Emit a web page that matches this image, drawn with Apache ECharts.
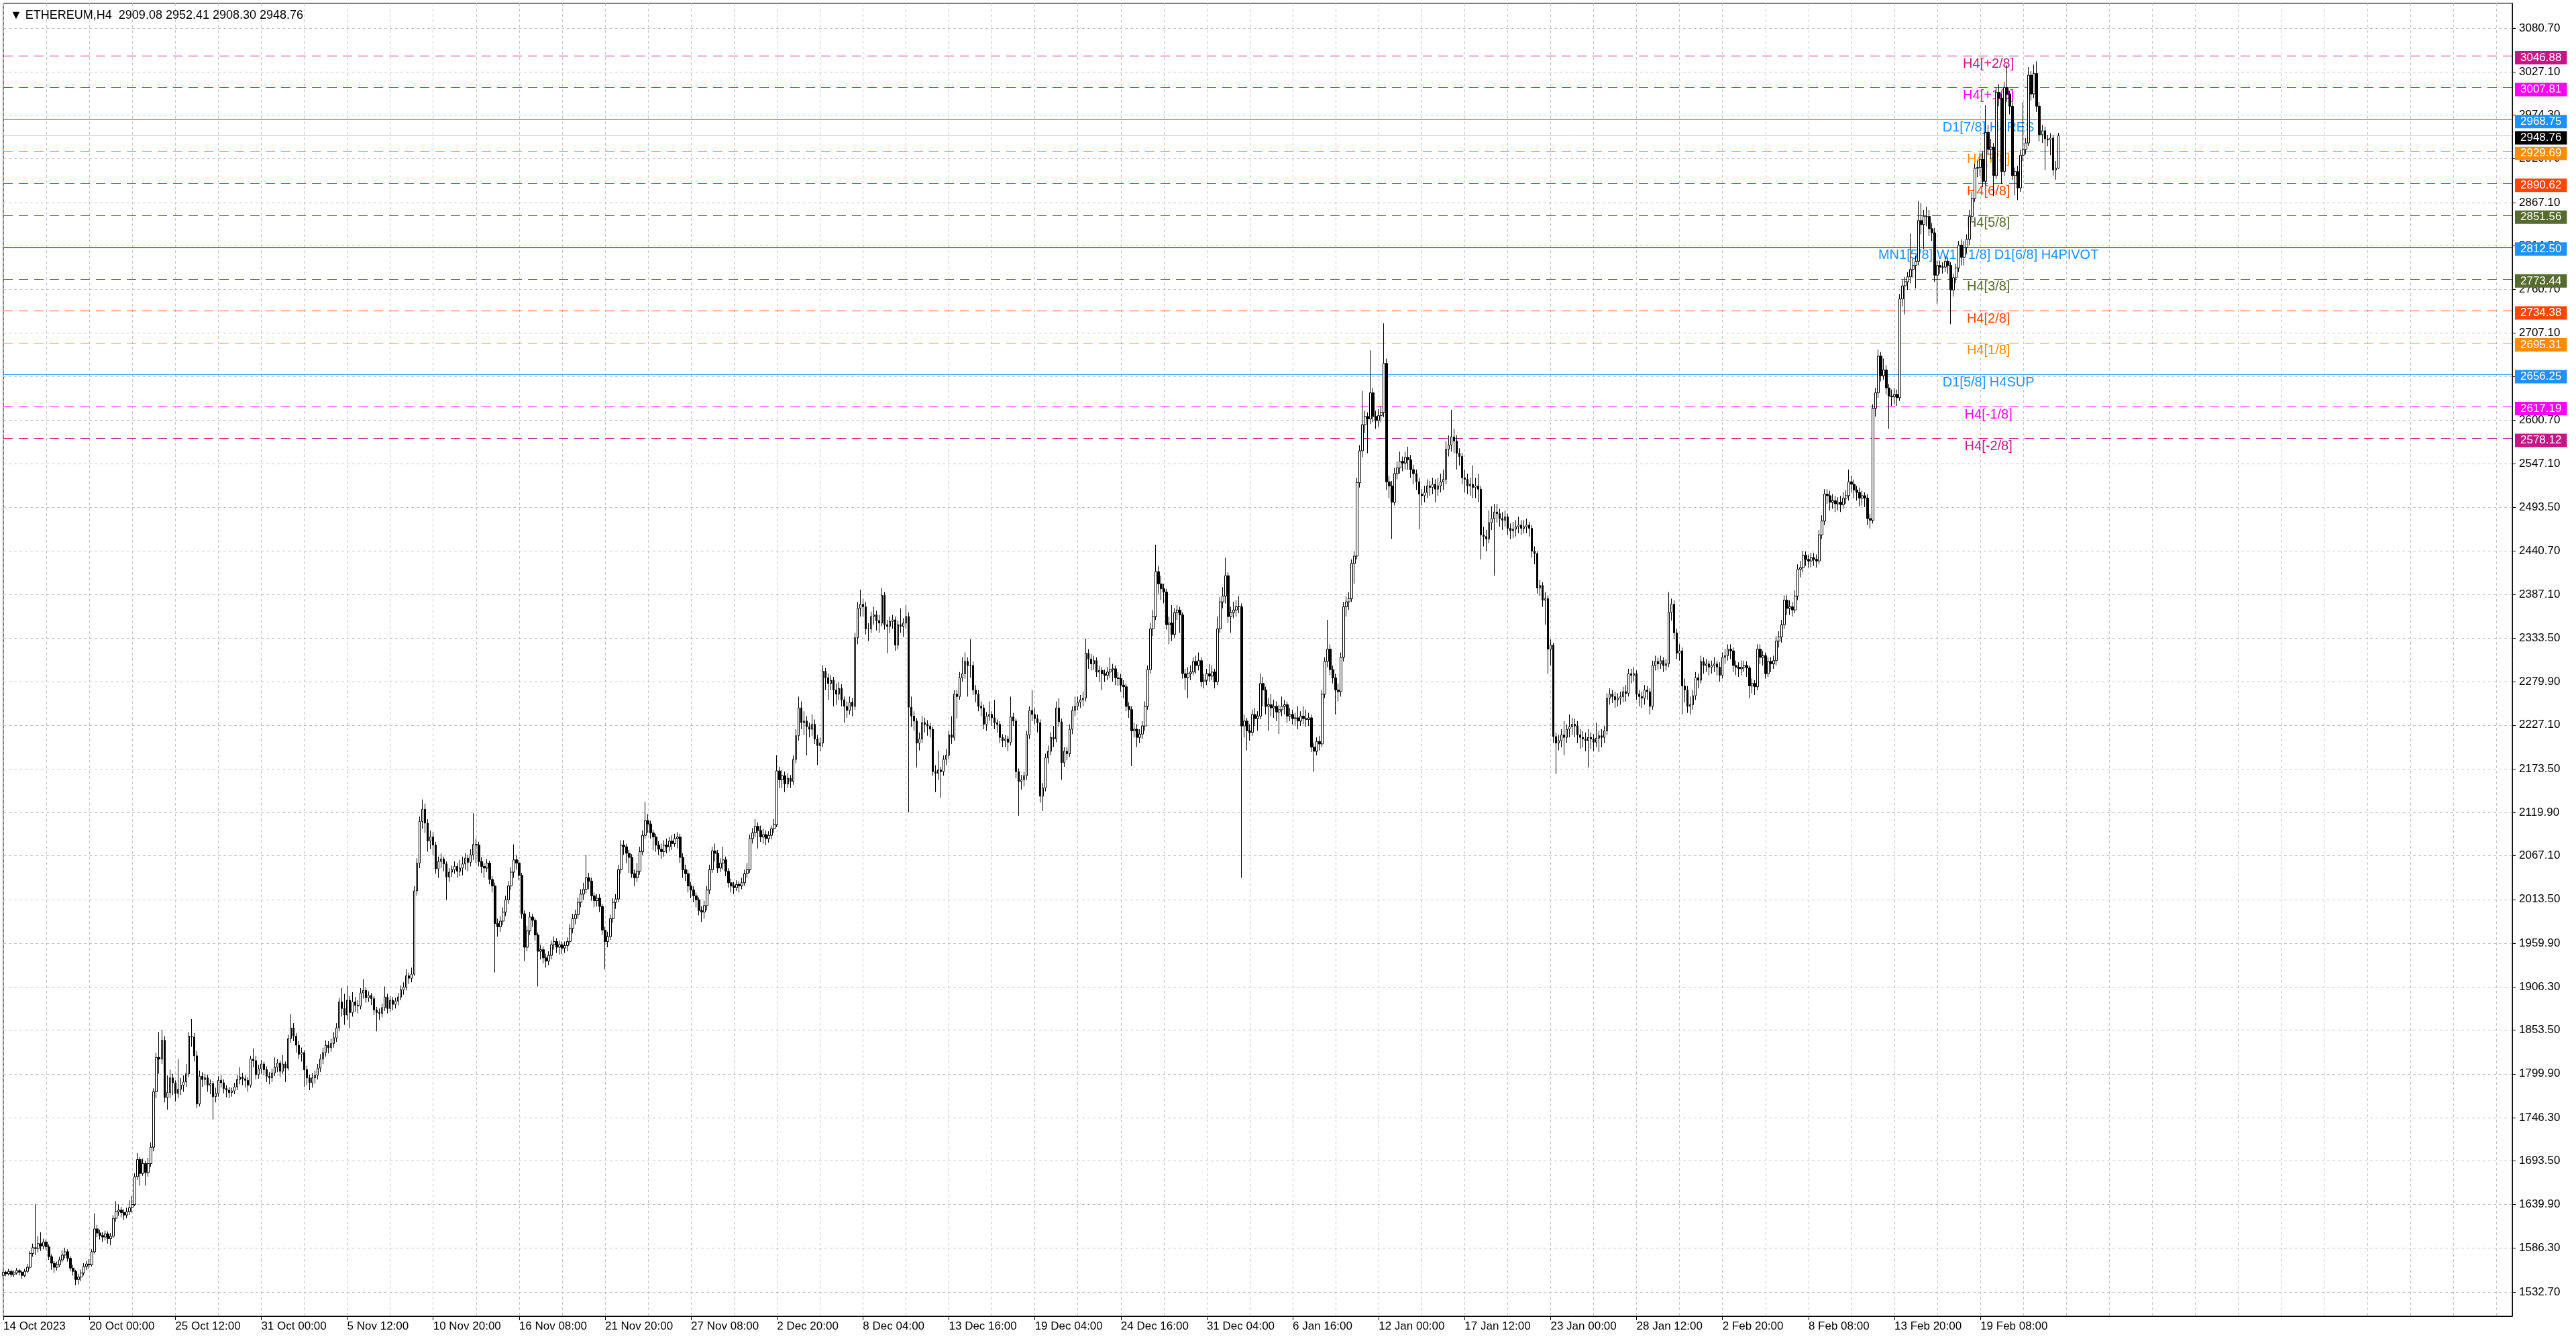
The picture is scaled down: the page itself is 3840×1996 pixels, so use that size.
<!DOCTYPE html>
<html><head><meta charset="utf-8">
<script src="https://cdn.jsdelivr.net/npm/echarts@6/dist/echarts.min.js"></script>
<style>html,body{margin:0;padding:0;background:#fff}#c{width:3840px;height:1996px}</style>
</head><body><div id="c"></div>
<script>
const chartTitle = 'ETHEREUM,H4';
const lastOHLC = ['2909.08', '2952.41', '2908.30', '2948.76'];
const timeLabels = ['14 Oct 2023','20 Oct 00:00','25 Oct 12:00','31 Oct 00:00','5 Nov 12:00','10 Nov 20:00','16 Nov 08:00','21 Nov 20:00','27 Nov 08:00','2 Dec 20:00','8 Dec 04:00','13 Dec 16:00','19 Dec 04:00','24 Dec 16:00','31 Dec 04:00','6 Jan 16:00','12 Jan 00:00','17 Jan 12:00','23 Jan 00:00','28 Jan 12:00','2 Feb 20:00','8 Feb 08:00','13 Feb 20:00','19 Feb 08:00'];
const yTicks = [3080.70,3027.10,2974.30,2920.70,2867.10,2814.30,2760.70,2707.10,2654.30,2600.70,2547.10,2493.50,2440.70,2387.10,2333.50,2279.90,2227.10,2173.50,2119.90,2067.10,2013.50,1959.90,1906.30,1853.50,1799.90,1746.30,1693.50,1639.90,1586.30,1532.70];
const levelValues = [3046.88,3007.81,2968.75,2929.69,2890.62,2851.56,2812.50,2773.44,2734.38,2695.31,2656.25,2617.19,2578.12];
const levelNames = ['H4[+2/8]','H4[+1/8]','D1[7/8] H4RES','H4[7/8]','H4[6/8]','H4[5/8]','MN1[5/8] W1[+1/8] D1[6/8] H4PIVOT','H4[3/8]','H4[2/8]','H4[1/8]','D1[5/8] H4SUP','H4[-1/8]','H4[-2/8]'];
const levelColors = ['#C71585','#FF00FF','#1E90FF','#FF8C00','#FF4500','#556B2F','#1E90FF','#556B2F','#FF4500','#FF8C00','#1E90FF','#FF00FF','#C71585'];
const levelSolid = [false,false,true,false,false,false,true,false,false,false,true,false,false];
const levelWidth = [1,1,1,1,1,1,2,1,1,1,1,1,1];
const bidPrice = 2948.76;

// [open, close, low, high]
const oct14Bars = [
[1553,1557,1550,1560],[1557,1555,1552,1559],[1555,1558,1553,1561],[1558,1554,1551,1560],[1554,1556,1551,1559],[1556,1559,1554,1562],[1559,1557,1553,1561],[1557,1553,1549,1559],
[1553,1558,1551,1561],[1558,1563,1556,1567],[1563,1580,1561,1583],[1580,1587,1576,1592],[1587,1586,1578,1640],[1586,1592,1581,1601],[1592,1589,1583,1606],[1589,1594,1585,1598],
[1594,1588,1584,1597],[1588,1576,1572,1591],[1576,1568,1560,1579],[1568,1563,1556,1571],[1563,1566,1559,1570],[1566,1572,1563,1576],[1572,1578,1569,1584],[1578,1582,1574,1587],
[1582,1574,1570,1585],[1574,1562,1558,1577],[1562,1558,1553,1566],[1558,1548,1541,1560],[1548,1551,1542,1555],[1551,1556,1546,1560],[1556,1564,1553,1568],[1564,1567,1560,1571],
[1567,1566,1561,1573],[1566,1582,1564,1585],[1582,1610,1580,1629],[1610,1605,1600,1615],[1605,1602,1597,1609],[1602,1600,1594,1606],[1600,1604,1596,1608],[1604,1598,1592,1607],
[1598,1601,1590,1605],[1601,1623,1599,1627],[1623,1631,1619,1644],[1631,1633,1626,1640],[1633,1630,1624,1637],[1630,1627,1621,1634],[1627,1631,1623,1636],[1631,1636,1627,1645],
[1636,1640,1630,1650],[1640,1674,1638,1678],[1674,1695,1670,1703],[1695,1678,1663,1698],[1678,1690,1675,1696],[1690,1679,1663,1693],[1679,1690,1674,1697],[1690,1710,1686,1716],
[1710,1778,1705,1782],[1778,1820,1770,1826],[1820,1818,1800,1851],[1818,1841,1812,1854],[1841,1771,1765,1846],[1771,1777,1756,1798],[1777,1795,1770,1805],[1795,1789,1774,1800],
[1789,1776,1766,1792],[1776,1781,1770,1818],[1781,1786,1774,1795],[1786,1790,1778,1798],[1790,1800,1784,1812],[1800,1846,1796,1851],[1846,1845,1833,1867],[1845,1822,1815,1850],
[1822,1763,1758,1828],[1763,1797,1760,1804],[1797,1793,1784,1802],[1793,1795,1786,1800],[1795,1786,1778,1799],[1786,1788,1775,1793],[1788,1772,1744,1791],[1772,1776,1765,1783],
[1776,1792,1772,1797],[1792,1789,1783,1799],[1789,1782,1776,1793],[1782,1780,1771,1786],[1780,1777,1770,1784],[1777,1779,1772,1783],[1779,1784,1775,1789],[1784,1793,1780,1799],
[1793,1796,1787,1808],[1796,1794,1786,1801],[1794,1792,1783,1798],[1792,1786,1778,1796],[1786,1818,1783,1822],[1818,1816,1808,1831],[1816,1799,1793,1822],[1799,1806,1794,1811],
[1806,1812,1800,1817],[1812,1805,1798,1815],[1805,1797,1790,1809],[1797,1795,1787,1802],[1795,1801,1790,1806],[1801,1808,1797,1820],[1808,1813,1802,1818],[1813,1803,1796,1816],
[1803,1812,1800,1823],[1812,1807,1790,1815],[1807,1843,1804,1848],[1843,1856,1838,1873],[1856,1846,1840,1862],[1846,1835,1826,1850],[1835,1824,1818,1840],[1824,1826,1815,1832],
[1826,1805,1784,1829],[1805,1795,1786,1810],[1795,1789,1780,1799],[1789,1795,1783,1801],[1795,1798,1788,1804],[1798,1807,1793,1812],[1807,1818,1802,1824],[1818,1826,1812,1832],
[1826,1835,1821,1841],[1835,1832,1825,1840],[1832,1837,1827,1843],[1837,1844,1832,1851],[1844,1856,1839,1862],[1856,1888,1852,1893],[1888,1880,1870,1905],[1880,1872,1860,1898]
];
const nov05Bars = [
[1872,1890,1866,1908],[1890,1875,1856,1895],[1875,1888,1870,1900],[1888,1884,1876,1894],[1884,1883,1874,1890],[1883,1899,1879,1905],[1899,1902,1892,1916],[1902,1893,1887,1906],
[1893,1896,1888,1901],[1896,1892,1884,1899],[1892,1878,1872,1895],[1878,1875,1852,1882],[1875,1874,1866,1880],[1874,1881,1869,1886],[1881,1894,1877,1907],[1894,1880,1874,1898],
[1880,1890,1876,1895],[1890,1885,1878,1894],[1885,1889,1880,1893],[1889,1894,1884,1899],[1894,1903,1890,1908],[1903,1906,1897,1912],[1906,1920,1902,1928],[1920,1917,1910,1924],
[1917,1922,1912,1930],[1922,2024,1920,2030],[2024,2058,2018,2064],[2058,2109,2052,2115],[2109,2124,2100,2136],[2124,2107,2095,2131],[2107,2085,2072,2112],[2085,2090,2075,2098],
[2090,2080,2068,2096],[2080,2051,2045,2084],[2051,2060,2040,2066],[2060,2063,2052,2070],[2063,2057,2048,2066],[2057,2041,2013,2060],[2041,2047,2035,2052],[2047,2050,2041,2055],
[2050,2054,2045,2060],[2054,2048,2040,2058],[2048,2052,2042,2062],[2052,2057,2043,2066],[2057,2064,2050,2070],[2064,2059,2048,2068],[2059,2068,2054,2075],[2068,2081,2062,2119],
[2081,2080,2058,2088],[2080,2060,2054,2084],[2060,2054,2046,2065],[2054,2052,2040,2058],[2052,2058,2047,2063],[2058,2038,2032,2061],[2038,2030,2022,2042],[2030,1984,1924,2034],
[1984,1980,1968,1990],[1980,1987,1974,1993],[1987,1998,1982,2004],[1998,2013,1993,2018],[2013,2030,2008,2036],[2030,2047,2025,2053],[2047,2062,2040,2081],[2062,2058,2050,2068],
[2058,2043,2037,2062],[2043,1996,1990,2046],[1996,1955,1938,2000],[1955,1975,1950,1981],[1975,1992,1970,1998],[1992,1988,1980,1996],[1988,1970,1963,1991],[1970,1950,1907,1973],
[1950,1952,1940,1958],[1952,1942,1935,1956],[1942,1938,1930,1947],[1938,1945,1933,1950],[1945,1958,1940,1963],[1958,1962,1952,1968],[1962,1955,1948,1966],[1955,1958,1946,1963],
[1958,1954,1947,1962],[1954,1957,1948,1962],[1957,1962,1950,1967],[1962,1978,1958,1983],[1978,1990,1972,1996],[1990,1995,1983,2001],[1995,2010,1990,2016],[2010,2020,2004,2026],
[2020,2026,2013,2034],[2026,2040,2021,2068],[2040,2036,2026,2046],[2036,2018,2012,2040],[2018,2012,2004,2022],[2012,2015,2005,2020],[2015,2005,1998,2020],[2005,1976,1970,2008],
[1976,1962,1928,1980],[1962,1968,1955,1974],[1968,1990,1964,1995],[1990,2010,1985,2015],[2010,2014,2002,2020],[2014,2050,2010,2056],[2050,2080,2045,2086],[2080,2078,2068,2086],
[2078,2070,2058,2082],[2070,2065,2046,2074],[2065,2045,2040,2069],[2045,2040,2030,2050],[2040,2048,2035,2058],[2048,2072,2044,2078],[2072,2092,2068,2098],[2092,2110,2088,2133],
[2110,2106,2095,2118],[2106,2095,2088,2110],[2095,2090,2074,2099],[2090,2080,2072,2094],[2080,2075,2068,2085],[2075,2072,2063,2082],[2072,2080,2066,2086],[2080,2078,2070,2088],
[2078,2085,2072,2090],[2085,2082,2074,2092],[2082,2088,2078,2094],[2088,2090,2076,2096],[2090,2065,2058,2094],[2065,2050,2040,2070],[2050,2045,2036,2056],[2045,2030,2022,2050]
];
const nov27Bars = [
[2030,2025,2015,2035],[2025,2018,2010,2030],[2018,2013,2004,2022],[2013,2000,1994,2016],[2000,1998,1986,2005],[1998,2006,1990,2012],[2006,2025,2000,2030],[2025,2050,2020,2056],
[2050,2073,2046,2078],[2073,2070,2060,2082],[2070,2052,2046,2074],[2052,2058,2047,2064],[2058,2062,2050,2078],[2062,2048,2042,2066],[2048,2034,2028,2052],[2034,2030,2022,2039],
[2030,2028,2020,2035],[2028,2032,2024,2037],[2032,2030,2022,2036],[2030,2034,2026,2040],[2034,2045,2030,2050],[2045,2050,2040,2058],[2050,2088,2046,2093],[2088,2095,2082,2101],
[2095,2103,2090,2112],[2103,2098,2076,2108],[2098,2090,2084,2104],[2090,2093,2082,2100],[2093,2088,2080,2098],[2088,2092,2083,2097],[2092,2100,2087,2104],[2100,2105,2095,2112],
[2105,2171,2102,2190],[2171,2160,2150,2176],[2160,2165,2150,2172],[2165,2155,2145,2170],[2155,2162,2150,2168],[2162,2158,2150,2166],[2158,2185,2154,2190],[2185,2214,2180,2222],
[2214,2248,2208,2262],[2248,2230,2222,2256],[2230,2232,2215,2244],[2232,2225,2190,2238],[2225,2222,2212,2230],[2222,2228,2214,2240],[2228,2210,2204,2234],[2210,2202,2178,2215],
[2202,2205,2195,2212],[2205,2293,2200,2300],[2293,2285,2270,2297],[2285,2278,2258,2290],[2278,2282,2270,2288],[2282,2270,2250,2286],[2270,2265,2252,2278],[2265,2272,2258,2280],
[2272,2258,2250,2277],[2258,2250,2230,2262],[2250,2245,2236,2256],[2245,2255,2240,2262],[2255,2250,2238,2260],[2250,2334,2246,2340],[2334,2370,2326,2378],[2370,2375,2360,2393],
[2375,2372,2360,2382],[2372,2345,2338,2378],[2345,2345,2330,2352],[2345,2360,2340,2366],[2360,2362,2350,2372],[2362,2355,2343,2367],[2355,2352,2340,2362],[2352,2386,2348,2395],
[2386,2350,2344,2390],[2350,2348,2315,2356],[2348,2354,2340,2360],[2354,2356,2345,2362],[2356,2325,2318,2360],[2325,2350,2320,2355],[2350,2348,2340,2370],[2348,2352,2335,2358],
[2352,2360,2345,2374],[2360,2249,2120,2365],[2249,2238,2225,2262],[2238,2232,2220,2244],[2232,2205,2175,2236],[2205,2210,2196,2218],[2210,2230,2205,2238],[2230,2228,2218,2236],
[2228,2226,2214,2233],[2226,2222,2212,2230],[2222,2170,2165,2225],[2170,2168,2145,2178],[2168,2172,2160,2195],[2172,2170,2138,2176],[2170,2185,2165,2190],[2185,2190,2178,2198],
[2190,2215,2185,2220],[2215,2212,2204,2238],[2212,2265,2208,2270],[2265,2262,2235,2270],[2262,2285,2258,2292],[2285,2290,2280,2310],[2290,2305,2284,2316],[2305,2300,2262,2310],
[2300,2300,2285,2332],[2300,2270,2264,2305],[2270,2265,2255,2276],[2265,2250,2244,2270],[2250,2248,2238,2256],[2248,2228,2222,2252],[2228,2238,2220,2243],[2238,2240,2232,2256],
[2240,2236,2226,2244],[2236,2230,2222,2258],[2230,2228,2218,2234],[2228,2212,2205,2232],[2212,2208,2200,2216],[2208,2210,2200,2215],[2210,2206,2195,2214],[2206,2237,2202,2262],
[2237,2232,2226,2242],[2232,2170,2162,2235],[2170,2158,2116,2174],[2158,2160,2148,2166],[2160,2165,2152,2170],[2165,2215,2160,2220],[2215,2245,2210,2250],[2245,2240,2232,2270]
];
const dec19Bars = [
[2240,2235,2228,2248],[2235,2230,2218,2240],[2230,2140,2132,2234],[2140,2150,2122,2156],[2150,2187,2146,2192],[2187,2195,2180,2202],[2195,2212,2190,2218],[2212,2210,2200,2226],
[2210,2248,2206,2256],[2248,2231,2225,2260],[2231,2181,2160,2235],[2181,2195,2176,2200],[2195,2192,2184,2200],[2192,2222,2188,2228],[2222,2245,2216,2250],[2245,2250,2238,2262],
[2250,2255,2245,2262],[2255,2258,2248,2264],[2258,2260,2250,2268],[2260,2315,2256,2333],[2315,2308,2296,2320],[2308,2302,2294,2314],[2302,2306,2295,2312],[2306,2292,2286,2310],
[2292,2294,2280,2300],[2294,2290,2270,2298],[2290,2288,2280,2295],[2288,2292,2282,2298],[2292,2295,2285,2310],[2295,2296,2280,2302],[2296,2285,2276,2300],[2285,2284,2275,2292],
[2284,2276,2268,2290],[2276,2274,2260,2282],[2274,2250,2244,2278],[2250,2246,2236,2255],[2246,2220,2177,2250],[2220,2222,2212,2230],[2222,2212,2200,2228],[2212,2216,2205,2222],
[2216,2226,2210,2232],[2226,2250,2220,2256],[2250,2295,2246,2300],[2295,2345,2290,2352],[2345,2360,2336,2368],[2360,2415,2356,2448],[2415,2400,2388,2422],[2400,2394,2380,2410],
[2394,2390,2376,2400],[2390,2350,2344,2394],[2350,2352,2326,2360],[2352,2338,2330,2374],[2338,2365,2334,2370],[2365,2368,2356,2374],[2368,2362,2340,2372],[2362,2290,2284,2365],
[2290,2285,2270,2296],[2285,2290,2260,2298],[2290,2292,2282,2300],[2292,2305,2288,2310],[2305,2300,2290,2312],[2300,2306,2294,2316],[2306,2280,2274,2310],[2280,2282,2272,2290],
[2282,2290,2276,2296],[2290,2287,2280,2302],[2287,2292,2282,2300],[2292,2280,2272,2296],[2280,2345,2276,2360],[2345,2378,2340,2384],[2378,2385,2370,2396],[2385,2410,2376,2432],
[2410,2360,2352,2414],[2360,2365,2340,2372],[2365,2368,2358,2378],[2368,2372,2360,2380],[2372,2372,2364,2385],[2372,2226,2040,2376],[2226,2232,2212,2240],[2232,2220,2196,2236],
[2220,2218,2208,2228],[2218,2240,2214,2246],[2240,2235,2226,2248],[2235,2238,2220,2244],[2238,2278,2234,2290],[2278,2270,2250,2286],[2270,2250,2240,2274],[2250,2252,2220,2260],
[2252,2248,2238,2265],[2248,2250,2236,2258],[2250,2243,2232,2256],[2243,2246,2216,2252],[2246,2250,2238,2262],[2250,2252,2240,2258],[2252,2238,2230,2256],[2238,2240,2232,2248],
[2240,2235,2228,2246],[2235,2236,2226,2242],[2236,2232,2222,2250],[2232,2238,2226,2244],[2238,2235,2228,2250],[2235,2234,2225,2246],[2234,2236,2226,2242],[2236,2200,2194,2240],
[2200,2195,2170,2205],[2195,2207,2190,2212],[2207,2204,2196,2214],[2204,2265,2200,2270],[2265,2305,2260,2310],[2305,2320,2298,2356],[2320,2295,2288,2326],[2295,2285,2278,2300],
[2285,2270,2240,2290],[2270,2268,2256,2278],[2268,2310,2262,2316],[2310,2372,2305,2378],[2372,2378,2360,2385],[2378,2382,2368,2390],[2382,2425,2378,2430],[2425,2434,2400,2440],
[2434,2524,2430,2530],[2524,2563,2518,2570],[2563,2595,2555,2636],[2595,2605,2585,2612],[2605,2602,2560,2610],[2602,2634,2596,2686],[2634,2605,2598,2640],[2605,2600,2590,2612]
];
const jan12Bars = [
[2600,2606,2592,2614],[2606,2610,2598,2618],[2610,2670,2604,2719],[2670,2525,2515,2676],[2525,2520,2505,2532],[2520,2500,2455,2526],[2500,2535,2496,2542],[2535,2542,2528,2550],
[2542,2550,2535,2562],[2550,2548,2538,2556],[2548,2555,2540,2562],[2555,2552,2540,2568],[2552,2540,2530,2558],[2540,2535,2522,2546],[2535,2525,2515,2540],[2525,2510,2467,2530],
[2510,2508,2496,2516],[2508,2512,2500,2520],[2512,2520,2505,2528],[2520,2518,2508,2526],[2518,2522,2510,2530],[2522,2516,2500,2528],[2516,2520,2508,2530],[2520,2525,2512,2535],
[2525,2528,2515,2540],[2528,2565,2522,2575],[2565,2570,2556,2582],[2570,2580,2562,2613],[2580,2575,2560,2590],[2575,2560,2540,2582],[2560,2556,2545,2566],[2556,2530,2522,2560],
[2530,2528,2512,2540],[2528,2520,2510,2535],[2520,2522,2508,2530],[2522,2518,2505,2545],[2518,2520,2505,2530],[2520,2516,2500,2535],[2516,2460,2430,2520],[2460,2458,2446,2470],
[2458,2455,2440,2466],[2455,2475,2450,2490],[2475,2480,2466,2495],[2480,2488,2410,2498],[2488,2486,2475,2498],[2486,2480,2470,2492],[2480,2478,2466,2488],[2478,2482,2470,2490],
[2482,2468,2460,2486],[2468,2465,2455,2474],[2465,2467,2456,2476],[2467,2470,2458,2478],[2470,2472,2462,2482],[2472,2468,2460,2478],[2468,2470,2462,2478],[2470,2472,2462,2480],
[2472,2468,2458,2476],[2468,2440,2432,2472],[2440,2437,2424,2446],[2437,2395,2388,2440],[2395,2398,2385,2405],[2398,2380,2372,2402],[2380,2382,2350,2390],[2382,2320,2290,2386],
[2320,2325,2300,2332],[2325,2213,2205,2328],[2213,2205,2167,2218],[2205,2208,2196,2215],[2208,2215,2200,2222],[2215,2212,2190,2232],[2212,2222,2205,2228],[2222,2225,2212,2240],
[2225,2228,2215,2236],[2228,2226,2212,2235],[2226,2215,2205,2232],[2215,2212,2198,2222],[2212,2210,2200,2220],[2210,2208,2195,2218],[2208,2212,2175,2222],[2212,2210,2198,2218],
[2210,2206,2195,2216],[2206,2211,2200,2230],[2211,2214,2194,2220],[2214,2212,2200,2222],[2212,2220,2205,2226],[2220,2260,2215,2266],[2260,2265,2252,2272],[2265,2262,2254,2270],
[2262,2258,2248,2268],[2258,2260,2250,2266],[2260,2262,2252,2268],[2262,2268,2255,2274],[2268,2266,2256,2276],[2266,2290,2262,2296],[2290,2288,2278,2296],[2288,2290,2280,2298],
[2290,2265,2258,2294],[2265,2262,2250,2270],[2262,2260,2248,2268],[2260,2270,2252,2276],[2270,2268,2258,2275],[2268,2250,2240,2272],[2250,2300,2246,2306],[2300,2305,2294,2312],
[2305,2302,2295,2310],[2302,2306,2296,2312],[2306,2300,2292,2310],[2300,2302,2294,2308],[2302,2365,2298,2390],[2365,2375,2355,2382],[2375,2340,2332,2380],[2340,2315,2308,2345],
[2315,2318,2306,2326],[2318,2275,2240,2322],[2275,2270,2255,2284],[2270,2250,2242,2275],[2250,2252,2240,2262],[2252,2263,2246,2270],[2263,2285,2258,2292],[2285,2282,2272,2290],
[2282,2305,2278,2312],[2305,2300,2290,2310],[2300,2302,2292,2308],[2302,2298,2288,2306],[2298,2300,2290,2306],[2300,2302,2292,2310],[2302,2298,2288,2306],[2298,2288,2280,2304]
];
const feb02Bars = [
[2288,2310,2284,2316],[2310,2312,2302,2320],[2312,2320,2306,2326],[2320,2318,2308,2326],[2318,2300,2292,2322],[2300,2298,2288,2306],[2298,2296,2286,2304],[2296,2298,2288,2306],
[2298,2300,2292,2306],[2300,2297,2286,2305],[2297,2275,2260,2300],[2275,2278,2266,2284],[2278,2274,2264,2282],[2274,2320,2270,2326],[2320,2310,2302,2326],[2310,2312,2300,2318],
[2312,2290,2284,2316],[2290,2305,2286,2310],[2305,2302,2292,2310],[2302,2306,2296,2312],[2306,2330,2300,2336],[2330,2335,2322,2342],[2335,2350,2328,2356],[2350,2380,2345,2386],
[2380,2370,2362,2386],[2370,2372,2362,2380],[2372,2368,2360,2378],[2368,2385,2364,2392],[2385,2418,2380,2424],[2418,2420,2408,2428],[2420,2435,2414,2440],[2435,2430,2422,2440],
[2430,2428,2420,2436],[2428,2432,2420,2438],[2432,2430,2422,2438],[2430,2428,2420,2436],[2428,2460,2424,2466],[2460,2477,2455,2484],[2477,2510,2472,2516],[2510,2508,2498,2516],
[2508,2500,2490,2514],[2500,2502,2492,2510],[2502,2498,2488,2508],[2498,2500,2490,2506],[2500,2497,2488,2508],[2497,2505,2492,2512],[2505,2508,2498,2515],[2508,2525,2502,2540],
[2525,2522,2512,2532],[2522,2515,2505,2528],[2515,2512,2502,2520],[2512,2505,2495,2518],[2505,2508,2496,2514],[2508,2505,2494,2512],[2505,2480,2472,2510],[2480,2478,2468,2486],
[2478,2615,2474,2620],[2615,2634,2605,2640],[2634,2679,2628,2687],[2679,2655,2648,2684],[2655,2662,2650,2676],[2662,2640,2632,2668],[2640,2630,2590,2645],[2630,2629,2618,2638],
[2629,2632,2620,2640],[2632,2628,2618,2638],[2628,2749,2624,2755],[2749,2765,2740,2772],[2765,2770,2730,2776],[2770,2776,2760,2782],[2776,2785,2768,2829],[2785,2790,2775,2798],
[2790,2795,2762,2802],[2795,2845,2790,2869],[2845,2840,2828,2866],[2840,2850,2810,2858],[2850,2850,2838,2862],[2850,2835,2826,2858],[2835,2830,2820,2842],[2830,2778,2770,2836],
[2778,2790,2743,2796],[2790,2788,2780,2796],[2788,2788,2780,2794],[2788,2795,2782,2802],[2795,2790,2780,2800],[2790,2760,2718,2794],[2760,2775,2752,2780],[2775,2787,2768,2792],
[2787,2815,2782,2820],[2815,2800,2790,2822],[2800,2812,2790,2820],[2812,2822,2805,2828],[2822,2850,2815,2858],[2850,2872,2845,2880],[2872,2909,2868,2915],[2909,2910,2898,2918],
[2910,2920,2900,2928],[2920,2893,2886,2930],[2893,2953,2888,2986],[2953,2932,2925,2962],[2932,2935,2920,2945],[2935,2900,2875,2940],[2900,3002,2896,3008],[3002,2995,2985,3012],
[2995,2905,2890,3000],[2905,3008,2900,3015],[3008,3000,2990,3035],[3000,2985,2975,3004],[2985,2900,2895,2990],[2900,2905,2876,2910],[2905,2885,2870,2912],[2885,2925,2880,2932],
[2925,2932,2918,2990],[2932,2940,2926,2946],[2940,3023,2936,3033],[3023,3000,2992,3028],[3000,3025,2995,3036],[3025,2985,2978,3040],[2985,2950,2942,2990],[2950,2955,2940,2962],
[2955,2945,2907,2960],[2945,2944,2936,2950],[2944,2946,2925,2952],[2946,2907,2900,2950],[2907,2909.08,2895,2918],[2909.08,2948.76,2908.30,2952.41]
];

const candles = [].concat(oct14Bars, nov05Bars, nov27Bars, dec19Bars, jan12Bars, feb02Bars);
const totalSlots = 935;      // chart-shift empty space on the right
const labelEvery = 32;
const gridEvery = 16;
const levelLabelSlot = 739;
const categories = Array.from({length: totalSlots}, (_, i) => String(i));

const FONT = 'Liberation Sans, Arial, sans-serif';

function tagLabel(text, bg) {
  return {
    show: true, position: 'end', distance: 4, offset: [0, 3],
    formatter: text,
    color: '#fff', backgroundColor: bg,
    padding: [2, 8, 1, 8], fontSize: 17, fontFamily: FONT, lineHeight: 17
  };
}

const markData = levelValues.map((v, i) => ({
  yAxis: v,
  lineStyle: {color: levelColors[i], width: levelWidth[i], type: levelSolid[i] ? 'solid' : [14, 9], opacity: 1},
  label: tagLabel(v.toFixed(2), levelColors[i])
}));
markData.push({
  yAxis: bidPrice,
  lineStyle: {color: '#C0C0C0', width: 1, type: 'solid', opacity: 1},
  label: tagLabel(bidPrice.toFixed(2), '#000')
});

const chart = echarts.init(document.getElementById('c'), null, {renderer: 'canvas'});
chart.setOption({
  animation: false,
  backgroundColor: '#fff',
  title: {
    text: '\u25BC ' + chartTitle + '  ' + lastOHLC.join(' '),
    left: 10, top: 9,
    textStyle: {fontSize: 18, fontWeight: 'normal', color: '#000', fontFamily: FONT}
  },
  grid: {left: 5, right: 95, top: 5, bottom: 34, show: true, borderColor: '#000', borderWidth: 1, backgroundColor: '#fff'},
  xAxis: {
    type: 'category', data: categories, boundaryGap: false,
    axisLine: {lineStyle: {color: '#000', width: 1}},
    axisTick: {show: true, length: 6, interval: (i) => i % labelEvery === 0 && i / labelEvery < timeLabels.length, lineStyle: {color: '#000'}},
    axisLabel: {
      interval: (i) => i % labelEvery === 0 && i / labelEvery < timeLabels.length,
      formatter: (val, idx) => timeLabels[Math.round(idx / labelEvery)] || '',
      align: 'left', margin: 7, color: '#000', fontSize: 17, fontFamily: FONT
    },
    splitLine: {show: true, interval: (i) => i % gridEvery === 0, lineStyle: {color: '#c4c4c4', width: 1, type: [4, 4]}}
  },
  yAxis: {
    type: 'value', position: 'right', min: 1503.1, max: 3111.0,
    axisLine: {show: true, lineStyle: {color: '#000', width: 1}},
    axisTick: {show: true, length: 5, customValues: yTicks, lineStyle: {color: '#000'}},
    axisLabel: {customValues: yTicks, formatter: (v) => v.toFixed(2), color: '#000', fontSize: 17, fontFamily: FONT, margin: 10},
    splitLine: {show: true, lineStyle: {color: '#c4c4c4', width: 1, type: [4, 4]}}
  },
  series: [
    {
      type: 'scatter', z: 1, symbolSize: 0, silent: true,
      itemStyle: {opacity: 1},
      data: levelValues.map((v, i) => ({
        value: [levelLabelSlot, v],
        itemStyle: {color: levelColors[i], opacity: 1},
        label: {show: true, position: 'bottom', distance: 2, formatter: levelNames[i], color: levelColors[i], opacity: 1, fontSize: 20, fontFamily: FONT}
      }))
    },
    {
      type: 'candlestick', z: 3, large: false, barWidth: 3,
      data: candles,
      itemStyle: {color: '#fff', color0: '#000', borderColor: '#000', borderColor0: '#000', borderWidth: 1},
      markLine: {
        silent: true, z: 1, symbol: ['none', 'none'], animation: false,
        data: markData
      }
    }
  ]
});
</script>
</body></html>
